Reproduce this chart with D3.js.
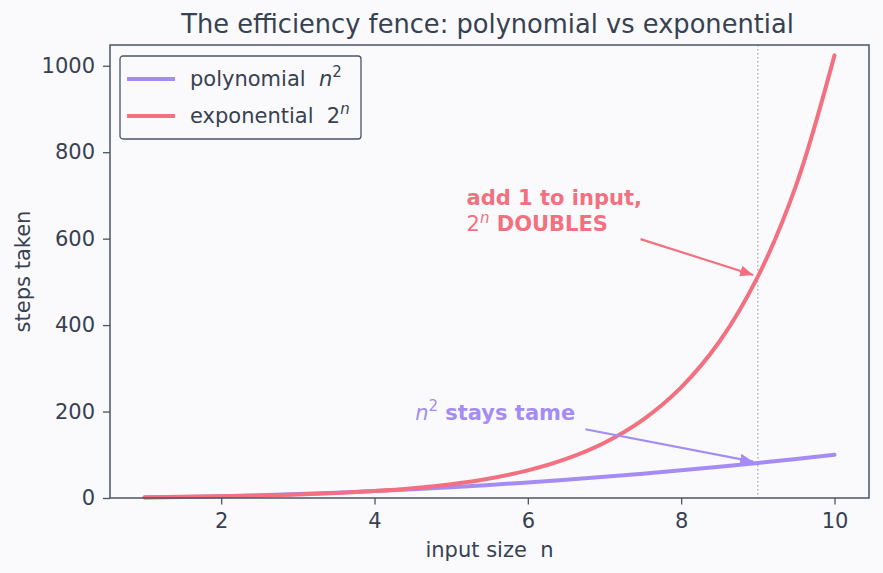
<!DOCTYPE html>
<html>
<head>
<meta charset="utf-8">
<script src="https://cdn.jsdelivr.net/npm/d3@7"></script>
<style>
  body { margin: 0; background: #fafafd; }
  svg { display: block; font-family: "DejaVu Sans", sans-serif; }
</style>
</head>
<body>
<div id="chart"></div>
<script>
const inputSizes = [1, 1.5, 2, 2.5, 3, 3.5, 4, 4.5, 5, 5.5, 6, 6.5, 7, 7.5, 8, 8.5, 9, 9.5, 10];
const polySteps = [1, 2.25, 4, 6.25, 9, 12.25, 16, 20.25, 25, 30.25, 36, 42.25, 49, 56.25, 64, 72.25, 81, 90.25, 100];
const expSteps = [2, 2.83, 4, 5.66, 8, 11.3, 16, 22.6, 32, 45.3, 64, 90.5, 128, 181, 256, 362, 512, 724, 1024];
const xTicks = [2, 4, 6, 8, 10];
const yTicks = [0, 200, 400, 600, 800, 1000];
const markerN = 9;

const W = 883, H = 573;
const margin = {top: 45, right: 14, bottom: 75, left: 110};
const width = W - margin.left - margin.right;
const height = H - margin.top - margin.bottom;

const textCol = "#374151";
const spineCol = "#4b5563";
const purple = "#a48cf4";
const red = "#f2707f";
const fs = "21px";

const svg = d3.select("#chart").append("svg")
    .attr("width", W)
    .attr("height", H);

svg.append("rect").attr("width", W).attr("height", H).attr("fill", "#fafafd");

const g = svg.append("g")
    .attr("transform", "translate(" + margin.left + "," + margin.top + ")");

// scales
const x = d3.scaleLinear().domain([0.55, 10.45]).range([0, width]);
const y = d3.scaleLinear().domain([0, 1048]).range([height, 0]);

// dotted marker line at n = 9
g.append("line")
    .attr("x1", x(markerN)).attr("x2", x(markerN))
    .attr("y1", 0).attr("y2", height)
    .attr("stroke", "#9ca3af")
    .attr("stroke-width", 1.2)
    .attr("stroke-dasharray", "1.5,2.5");

// curves
const line = d3.line()
    .x((d, i) => x(inputSizes[i]))
    .y(d => y(d))
    .curve(d3.curveCatmullRom);

g.append("path")
    .datum(polySteps)
    .attr("d", line)
    .attr("fill", "none")
    .attr("stroke", purple)
    .attr("stroke-width", 4)
    .attr("stroke-linecap", "round");

g.append("path")
    .datum(expSteps)
    .attr("d", line)
    .attr("fill", "none")
    .attr("stroke", red)
    .attr("stroke-width", 4)
    .attr("stroke-linecap", "round");

// axes
const xAxis = d3.axisBottom(x).tickValues(xTicks).tickSize(6.5).tickPadding(9).tickFormat(d3.format("d"));
const yAxis = d3.axisLeft(y).tickValues(yTicks).tickSize(7).tickPadding(8).tickFormat(d3.format("d"));

const gx = g.append("g")
    .attr("transform", "translate(0," + height + ")")
    .call(xAxis);
const gy = g.append("g").call(yAxis);

[gx, gy].forEach(a => {
    a.select(".domain").remove();
    a.selectAll(".tick line").attr("stroke", spineCol).attr("stroke-width", 1.3);
    a.selectAll(".tick text")
        .attr("fill", textCol)
        .style("font-size", fs)
        .style("font-family", "DejaVu Sans");
});

// frame
g.append("rect")
    .attr("width", width).attr("height", height)
    .attr("fill", "none")
    .attr("stroke", spineCol)
    .attr("stroke-width", 1.5);

// labels
svg.append("text")
    .attr("x", margin.left + width / 2 - 2)
    .attr("y", 33)
    .attr("text-anchor", "middle")
    .attr("fill", textCol)
    .style("font-size", "25.7px")
    .text("The efficiency fence: polynomial vs exponential");

svg.append("text")
    .attr("x", margin.left + width / 2)
    .attr("y", 557)
    .attr("text-anchor", "middle")
    .attr("fill", textCol)
    .style("font-size", fs)
    .style("white-space", "pre")
    .text("input size  n");

svg.append("text")
    .attr("transform", "translate(30," + (margin.top + height / 2) + ") rotate(-90)")
    .attr("text-anchor", "middle")
    .attr("fill", textCol)
    .style("font-size", fs)
    .text("steps taken");

// legend
const legend = g.append("g").attr("transform", "translate(10,11)");
legend.append("rect")
    .attr("width", 241).attr("height", 83)
    .attr("rx", 3)
    .attr("fill", "#fafafd")
    .attr("stroke", spineCol)
    .attr("stroke-width", 1.3);

const legendItems = [
    {color: purple, label: "polynomial", math: [["n", "italic", false], ["2", "normal", true]]},
    {color: red, label: "exponential", math: [["2", "normal", false], ["n", "italic", true]]}
];

legendItems.forEach((d, i) => {
    const yy = 23 + i * 37;
    legend.append("line")
        .attr("x1", 7).attr("x2", 55)
        .attr("y1", yy).attr("y2", yy)
        .attr("stroke", d.color)
        .attr("stroke-width", 4);
    const t = legend.append("text")
        .attr("x", 70).attr("y", yy + 7)
        .attr("fill", textCol)
        .style("font-size", fs)
        .style("white-space", "pre");
    t.append("tspan").text(d.label + "  ");
    d.math.forEach(m => {
        const ts = t.append("tspan").text(m[0]).style("font-style", m[1]);
        if (m[2]) ts.attr("dy", -9).style("font-size", "15px");
    });
});

// arrowheads
const defs = svg.append("defs");
[["headRed", red], ["headPurple", purple]].forEach(([id, col]) => {
    defs.append("marker")
        .attr("id", id)
        .attr("viewBox", "0 0 12 10")
        .attr("refX", 12).attr("refY", 5)
        .attr("markerWidth", 6).attr("markerHeight", 5)
        .attr("markerUnits", "strokeWidth")
        .attr("orient", "auto")
        .append("path")
        .attr("d", "M0,0 L12,5 L0,10 z")
        .attr("fill", col);
});

// annotation: exponential
g.append("text")
    .attr("x", x(5.2)).attr("y", y(679))
    .attr("fill", red)
    .style("font-size", fs)
    .style("font-weight", "bold")
    .text("add 1 to input,");
const expLine2 = g.append("text")
    .attr("x", x(5.2)).attr("y", y(617))
    .attr("fill", red)
    .style("font-size", fs)
    .style("white-space", "pre");
expLine2.append("tspan").text("2");
expLine2.append("tspan").text("n").style("font-style", "italic").style("font-size", "15px").attr("dy", -8);
expLine2.append("tspan").text(" DOUBLES").style("font-weight", "bold").attr("dy", 8);

g.append("line")
    .attr("x1", x(7.47)).attr("y1", y(599))
    .attr("x2", x(8.94)).attr("y2", y(516))
    .attr("stroke", red)
    .attr("stroke-width", 2.2)
    .attr("marker-end", "url(#headRed)");

// annotation: polynomial
const polyText = g.append("text")
    .attr("x", x(4.53)).attr("y", y(180))
    .attr("fill", purple)
    .style("font-size", fs)
    .style("white-space", "pre");
polyText.append("tspan").text("n").style("font-style", "italic");
polyText.append("tspan").text("2").style("font-size", "15px").attr("dy", -9);
polyText.append("tspan").text(" stays tame").style("font-weight", "bold").attr("dy", 9);

g.append("line")
    .attr("x1", x(6.75)).attr("y1", y(159))
    .attr("x2", x(8.94)).attr("y2", y(84))
    .attr("stroke", purple)
    .attr("stroke-width", 2.2)
    .attr("marker-end", "url(#headPurple)");
</script>
</body>
</html>
